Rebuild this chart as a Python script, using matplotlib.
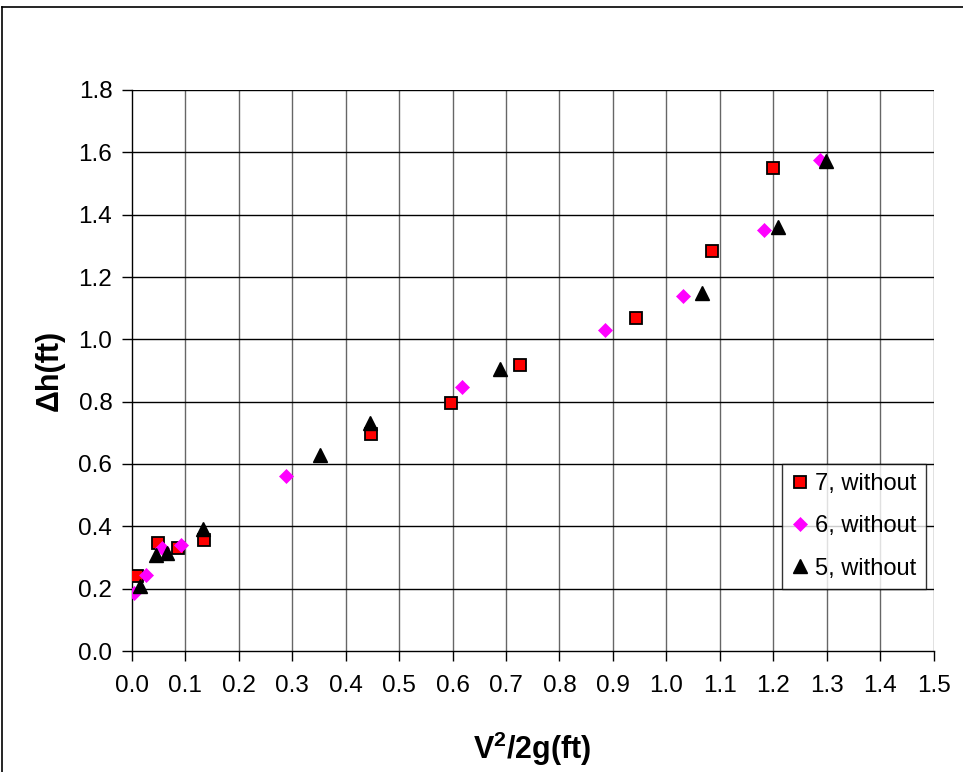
import matplotlib.pyplot as plt
from matplotlib.lines import Line2D
import numpy as np

plt.rcParams['font.family'] = ['Liberation Sans', 'DejaVu Sans']
plt.rcParams['mathtext.fontset'] = 'custom'
plt.rcParams['mathtext.bf'] = 'Liberation Sans:bold'
plt.rcParams['mathtext.rm'] = 'Liberation Sans'

# series "7, without" (red squares)
x7 = [0.010, 0.050, 0.087, 0.135, 0.447, 0.597, 0.727, 0.943, 1.086, 1.199]
y7 = [0.240, 0.345, 0.332, 0.357, 0.697, 0.795, 0.917, 1.070, 1.282, 1.551]

# series "6, without" (magenta diamonds)
x6 = [0.004, 0.026, 0.057, 0.092, 0.288, 0.618, 0.885, 1.032, 1.182, 1.288]
y6 = [0.185, 0.244, 0.330, 0.341, 0.560, 0.848, 1.029, 1.138, 1.350, 1.576]

# series "5, without" (black triangles)
x5 = [0.015, 0.045, 0.066, 0.134, 0.352, 0.446, 0.688, 1.066, 1.209, 1.298]
y5 = [0.209, 0.309, 0.314, 0.391, 0.628, 0.731, 0.904, 1.148, 1.360, 1.571]

xticks = np.round(np.arange(0, 1.51, 0.1), 1)
yticks = np.round(np.arange(0, 1.81, 0.2), 1)

fig = plt.figure(figsize=(9.63, 7.72), dpi=100)
ax = fig.add_axes([131.7 / 963, 1 - 651 / 772, (933.7 - 131.7) / 963, (651 - 90) / 772])

# outer chart frame (only left and top edges visible)
fig.add_artist(Line2D([2 / 963, 2 / 963], [0, 1 - 7 / 772], transform=fig.transFigure,
                      color='black', lw=1.2))
fig.add_artist(Line2D([2 / 963, 1], [1 - 7 / 772, 1 - 7 / 772], transform=fig.transFigure,
                      color='black', lw=1.2))

for xv in xticks[1:]:
    ax.axvline(xv, color='#666666', lw=1.0, zorder=1)
for yv in yticks[1:]:
    ax.axhline(yv, color='black', lw=1.0, zorder=1)

ax.plot(x7, y7, ls='none', marker='s', ms=8, mfc='red', mec='black', mew=1.3,
        label='7, without', zorder=3)
ax.plot(x6, y6, ls='none', marker='D', ms=7.5, mfc='#ff00ff', mec='#ff00ff', mew=0.5,
        label='6, without', zorder=3)
ax.plot(x5, y5, ls='none', marker='^', ms=10, mfc='black', mec='black',
        label='5, without', zorder=3)

ax.set_xlim(0, 1.5)
ax.set_ylim(0, 1.8)
ax.set_xticks(xticks)
ax.set_yticks(yticks)
ax.set_xticklabels([f'{v:.1f}' for v in xticks])
ax.set_yticklabels([f'{v:.1f}' for v in yticks])
ax.tick_params(direction='out', length=7, width=1, labelsize=17.5, pad=7)
ax.tick_params(axis='x', pad=10)

for s in ['top', 'right']:
    ax.spines[s].set_visible(False)
ax.spines['left'].set_linewidth(1.0)
ax.spines['bottom'].set_linewidth(1.0)

ax.set_xlabel(r'V$^\mathbf{2}$/2g(ft)', fontsize=22, fontweight='bold', labelpad=24)
ax.set_ylabel('\u0394h(ft)', fontsize=22, fontweight='bold', labelpad=10)

leg = ax.legend(loc='lower right', bbox_to_anchor=(926 / 963, 1 - 589 / 772),
                bbox_transform=fig.transFigure, fontsize=17, frameon=True, fancybox=False,
                edgecolor='black', handlelength=0.7, handletextpad=0.3, labelspacing=0.85,
                borderpad=0.4, borderaxespad=0)
leg.get_frame().set_linewidth(1.0)

fig.savefig('out.png', dpi=100, facecolor='white')
